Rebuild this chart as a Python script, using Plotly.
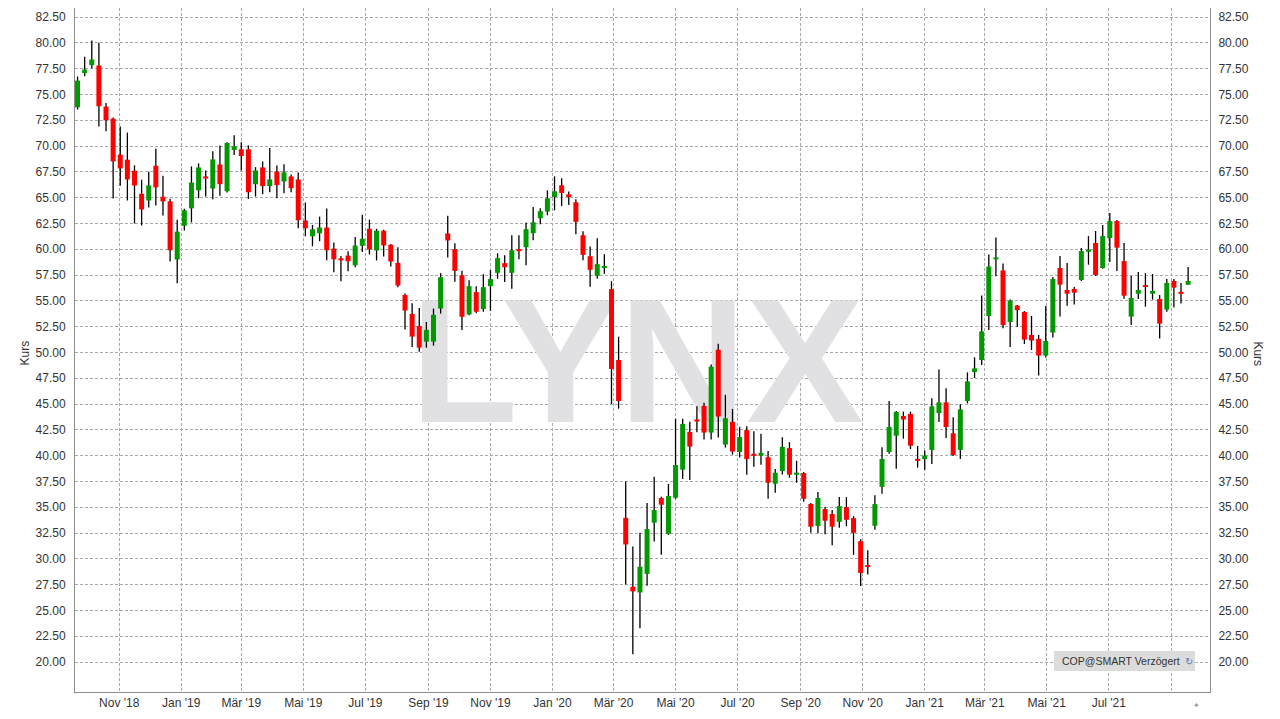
import pandas as pd
import plotly.graph_objects as go

# ---------------- data (weekly candles, COP) ----------------
start_date = "2018-09-21"
opens = [73.75, 77.06, 77.83, 77.80, 73.82, 72.65, 69.16, 68.67, 67.60, 65.37,
         64.72, 68.09, 65.08, 64.64, 59.00, 62.27, 63.96, 65.71, 67.05, 65.88,
         68.21, 65.62, 69.61, 69.68, 69.68, 66.30, 67.92, 66.11, 67.53, 66.56,
         67.05, 66.76, 62.78, 61.25, 61.55, 62.10, 60.06, 59.12, 59.38, 58.44,
         60.33, 61.98, 59.88, 61.79, 60.43, 58.68, 55.57, 53.73, 52.56, 51.04,
         51.04, 54.25, 61.53, 60.00, 57.48, 53.68, 55.84, 54.19, 56.42, 57.71,
         58.65, 57.71, 60.00, 60.19, 61.55, 63.00, 63.65, 65.06, 66.19, 65.32,
         64.55, 61.35, 59.32, 57.42, 58.19, 56.13, 49.26, 33.97, 27.29, 26.74,
         28.54, 33.50, 35.89, 32.43, 35.92, 38.64, 42.30, 43.50, 44.82, 42.23,
         50.26, 41.07, 43.27, 40.34, 42.47, 40.18, 39.98, 39.85, 37.27, 38.50,
         40.73, 38.15, 38.31, 35.31, 33.18, 34.82, 34.34, 33.58, 35.01, 33.94,
         31.71, 29.38, 33.20, 36.98, 40.35, 41.93, 43.84, 44.04, 39.67, 39.66,
         40.55, 44.13, 45.16, 42.16, 40.55, 45.29, 48.10, 49.26, 53.52, 59.03,
         57.94, 52.94, 54.55, 53.92, 51.69, 51.31, 49.69, 51.92, 58.18, 56.05,
         56.15, 57.02, 59.76, 60.60, 58.18, 61.08, 62.73, 58.85, 53.47, 55.69,
         56.53, 55.69, 55.18, 54.15, 56.92, 55.85, 56.56]
highs = [76.73, 78.64, 80.23, 80.00, 74.17, 72.75, 71.88, 71.30, 68.12, 66.73,
         67.51, 69.74, 67.12, 64.90, 62.86, 63.93, 68.02, 68.31, 67.63, 69.48,
         70.06, 70.36, 71.04, 70.36, 70.06, 67.95, 68.50, 69.80, 68.11, 68.24,
         67.24, 67.44, 64.52, 62.35, 63.16, 63.94, 60.64, 59.35, 59.80, 61.19,
         63.34, 62.86, 61.98, 61.89, 60.50, 60.20, 55.70, 54.77, 54.31, 52.95,
         54.25, 57.68, 63.24, 60.58, 57.90, 57.00, 56.42, 57.58, 57.97, 59.61,
         59.42, 61.35, 61.35, 62.58, 64.10, 63.97, 65.71, 67.06, 66.87, 65.58,
         64.84, 61.74, 60.26, 61.06, 59.52, 56.90, 51.52, 37.48, 31.19, 32.52,
         35.40, 37.96, 36.02, 37.25, 43.56, 43.56, 43.27, 44.79, 45.11, 48.83,
         50.84, 45.89, 44.53, 42.79, 42.85, 42.37, 42.11, 40.44, 38.69, 41.79,
         41.31, 39.50, 38.40, 35.40, 36.47, 35.02, 34.73, 35.98, 35.98, 34.13,
         31.90, 30.83, 36.17, 40.80, 45.30, 44.33, 44.26, 44.26, 40.93, 40.50,
         45.55, 48.35, 46.52, 43.71, 44.97, 48.06, 49.52, 55.52, 59.48, 61.13,
         58.61, 55.13, 54.60, 54.00, 53.53, 51.69, 54.50, 57.31, 59.34, 58.66,
         56.34, 60.11, 61.27, 61.76, 62.34, 63.50, 62.82, 60.60, 57.40, 57.79,
         57.69, 57.60, 55.56, 57.11, 57.11, 56.73, 58.27]
lows = [73.53, 76.76, 77.54, 71.90, 71.42, 64.92, 66.15, 64.72, 62.49, 62.30,
        64.05, 64.24, 63.27, 58.80, 56.70, 61.80, 62.60, 64.94, 65.10, 64.84,
        65.19, 65.50, 69.12, 67.63, 64.87, 65.10, 65.33, 65.53, 64.94, 65.43,
        65.53, 62.03, 61.25, 60.28, 60.77, 58.92, 57.76, 56.89, 57.86, 58.24,
        59.72, 59.49, 58.91, 59.30, 58.33, 56.32, 52.21, 50.53, 50.07, 50.46,
        50.66, 53.76, 59.20, 56.84, 52.16, 53.61, 53.80, 53.94, 54.03, 57.13,
        56.81, 56.16, 59.03, 58.45, 60.87, 62.42, 63.29, 63.77, 64.19, 64.29,
        61.45, 58.94, 56.35, 57.13, 57.61, 45.00, 44.55, 27.52, 20.74, 23.26,
        27.38, 31.68, 30.39, 32.33, 35.80, 37.73, 37.64, 42.27, 41.55, 41.55,
        41.75, 40.78, 40.10, 39.82, 38.15, 38.92, 39.11, 35.82, 36.40, 38.18,
        37.85, 37.37, 35.53, 32.53, 32.47, 32.37, 31.32, 33.00, 33.16, 30.38,
        27.37, 28.47, 32.81, 36.30, 40.19, 38.73, 41.64, 40.64, 38.83, 38.62,
        39.19, 43.26, 41.71, 39.97, 39.68, 45.06, 47.52, 48.77, 52.16, 57.39,
        52.35, 50.52, 52.45, 50.82, 50.24, 47.76, 49.50, 51.44, 53.47, 54.53,
        54.63, 56.92, 58.50, 57.40, 58.10, 58.76, 57.89, 55.21, 52.66, 55.18,
        54.44, 55.11, 51.34, 53.95, 54.34, 54.73, 56.56]
closes = [76.34, 77.41, 78.38, 73.85, 72.49, 68.51, 67.83, 66.76, 66.18, 63.85,
          66.18, 65.99, 64.63, 59.90, 61.70, 63.77, 66.46, 67.92, 66.85, 68.70,
          66.30, 70.29, 69.97, 69.03, 65.52, 67.63, 66.11, 66.76, 66.21, 67.44,
          65.91, 62.81, 62.03, 61.93, 62.10, 59.90, 59.02, 58.92, 58.83, 60.35,
          61.01, 59.98, 61.79, 60.36, 58.81, 56.48, 54.05, 51.53, 50.46, 52.18,
          53.64, 57.29, 60.85, 57.90, 53.45, 56.42, 53.94, 56.32, 57.10, 59.13,
          58.26, 59.90, 59.81, 61.94, 62.61, 63.68, 64.94, 65.61, 65.45, 65.06,
          62.65, 59.45, 58.00, 58.55, 58.35, 48.39, 45.29, 31.39, 26.84, 29.23,
          32.88, 34.72, 35.24, 36.08, 39.09, 43.07, 40.87, 43.30, 42.23, 48.61,
          43.79, 43.62, 40.39, 41.79, 39.66, 39.98, 40.27, 37.37, 38.34, 40.85,
          38.15, 38.34, 35.82, 33.11, 35.89, 33.69, 33.11, 35.10, 33.78, 32.52,
          28.63, 29.22, 35.30, 39.67, 42.78, 44.23, 43.49, 40.96, 39.51, 40.00,
          44.77, 45.16, 42.77, 40.06, 44.48, 47.19, 48.45, 52.03, 58.32, 59.19,
          52.65, 55.03, 54.10, 51.24, 51.15, 49.69, 51.11, 57.11, 56.56, 55.69,
          55.79, 59.82, 59.95, 57.50, 61.27, 62.73, 60.15, 55.50, 55.27, 56.05,
          56.34, 55.95, 52.79, 56.73, 56.27, 55.69, 56.92]

tick_dates = ["2018-11-01", "2019-01-01", "2019-03-01", "2019-05-01", "2019-07-01",
              "2019-09-01", "2019-11-01", "2020-01-01", "2020-03-01", "2020-05-01",
              "2020-07-01", "2020-09-01", "2020-11-01", "2021-01-01", "2021-03-01",
              "2021-05-01", "2021-07-01", "2021-09-01"]
tick_labels = ["Nov '18", "Jan '19", "Mär '19", "Mai '19", "Jul '19", "Sep '19",
               "Nov '19", "Jan '20", "Mär '20", "Mai '20", "Jul '20", "Sep '20",
               "Nov '20", "Jan '21", "Mär '21", "Mai '21", "Jul '21", ""]
y_ticks = [20.0, 22.5, 25.0, 27.5, 30.0, 32.5, 35.0, 37.5, 40.0, 42.5, 45.0, 47.5,
           50.0, 52.5, 55.0, 57.5, 60.0, 62.5, 65.0, 67.5, 70.0, 72.5, 75.0, 77.5,
           80.0, 82.5]

# ---------------- build ----------------
dates = pd.date_range(start_date, periods=len(opens), freq="7D")

GREEN = "#009900"
RED = "#ff0000"

wick_x, wick_y = [], []
for d, lo, hi in zip(dates, lows, highs):
    wick_x += [d, d, None]
    wick_y += [lo, hi, None]

def bodies(up):
    bx, by = [], []
    for d, o, c in zip(dates, opens, closes):
        if (c >= o) != up:
            continue
        lo_b, hi_b = min(o, c), max(o, c)
        if hi_b - lo_b < 0.2:
            mid = (lo_b + hi_b) / 2
            lo_b, hi_b = mid - 0.1, mid + 0.1
        bx += [d, d, None]
        by += [lo_b, hi_b, None]
    return bx, by

fig = go.Figure()

# watermark (drawn first -> below candles)
fig.add_trace(go.Scatter(
    x=[pd.Timestamp("2020-03-24")], y=[47.5], mode="text", text=["LYNX"],
    textposition="middle center",
    textfont=dict(family="Liberation Sans, Arial, sans-serif",
                  size=176, color="#e1e1e3", weight="bold"),
    hoverinfo="skip", showlegend=False))

fig.add_trace(go.Scatter(
    x=wick_x, y=wick_y, mode="lines", line=dict(color="#000000", width=1.3),
    hoverinfo="skip", showlegend=False))

gx, gy = bodies(True)
rx, ry = bodies(False)
fig.add_trace(go.Scatter(x=gx, y=gy, mode="lines", line=dict(color=GREEN, width=5),
                         hoverinfo="skip", showlegend=False))
fig.add_trace(go.Scatter(x=rx, y=ry, mode="lines", line=dict(color=RED, width=5),
                         hoverinfo="skip", showlegend=False))

YR = [17.093, 83.372]
XR = ["2018-09-18 12:00", "2021-10-08 12:00"]

tickfont = dict(family="Liberation Sans, Arial, sans-serif", size=12, color="#333333")

fig.update_layout(
    width=1280, height=719,
    margin=dict(l=67, r=78, t=0, b=35, autoexpand=False),
    paper_bgcolor="white", plot_bgcolor="white",
    showlegend=False, hovermode=False,
    xaxis=dict(type="date", range=XR, tickvals=tick_dates, ticktext=tick_labels,
               showgrid=True, gridcolor="#a9a9a9", griddash="3px,2px", gridwidth=1,
               showline=True, linecolor="#8c8c8c", linewidth=1, mirror=False,
               ticks="", tickfont=tickfont, zeroline=False, fixedrange=True),
    yaxis=dict(range=YR, tickvals=y_ticks, tickformat=".2f",
               showgrid=True, gridcolor="#a9a9a9", griddash="3px,2px", gridwidth=1,
               showline=True, linecolor="#8c8c8c", linewidth=1,
               ticks="", tickfont=tickfont, zeroline=False, ticklabelstandoff=6),
    yaxis2=dict(range=YR, tickvals=y_ticks, tickformat=".2f", overlaying="y",
                side="right", showgrid=False, showline=True, linecolor="#8c8c8c",
                linewidth=1, ticks="", tickfont=tickfont, zeroline=False,
                ticklabelstandoff=5),
)

# make right axis visible with an invisible dummy trace
fig.add_trace(go.Scatter(x=[dates[0]], y=[YR[0] - 10], yaxis="y2", mode="markers",
                         marker=dict(opacity=0), hoverinfo="skip", showlegend=False))

# axis titles
fig.add_annotation(text="Kurs", xref="paper", yref="paper", x=-0.044, y=0.495,
                   xanchor="center", yanchor="middle",
                   textangle=-90, showarrow=False,
                   font=dict(family="Liberation Sans, Arial", size=12, color="#333333"))
fig.add_annotation(text="Kurs", xref="paper", yref="paper", x=1.0423, y=0.495,
                   xanchor="center", yanchor="middle",
                   textangle=90, showarrow=False,
                   font=dict(family="Liberation Sans, Arial", size=12, color="#333333"))

# source box
fig.add_shape(type="rect", xref="paper", yref="paper", x0=0.8626, x1=0.9868,
              y0=0.0307, y1=0.0599, fillcolor="#dcdcdc", line=dict(width=0))
fig.add_annotation(text="COP@SMART Verzögert", xref="paper", yref="paper",
                   x=0.8678, y=0.0453, xanchor="left", yanchor="middle", showarrow=False,
                   font=dict(family="Liberation Sans, Arial", size=10.5, color="#333333"))
fig.add_annotation(text="↻", xref="paper", yref="paper", x=0.9815, y=0.0453,
                   xanchor="center", yanchor="middle", showarrow=False,
                   font=dict(family="DejaVu Sans", size=10, color="#4d7fb3"))
fig.add_annotation(text="✦", xref="paper", yref="paper", x=0.9877, y=-0.020,
                   xanchor="center", yanchor="middle", showarrow=False,
                   font=dict(family="DejaVu Sans", size=8, color="#9a9a9a"))

fig.write_html("out.html")
